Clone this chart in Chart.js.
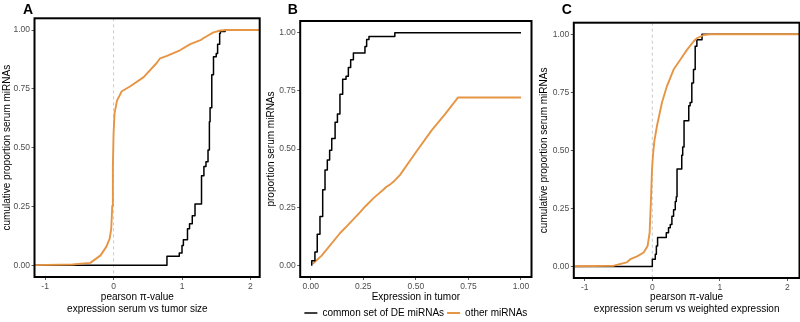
<!DOCTYPE html>
<html>
<head>
<meta charset="utf-8">
<script src="https://cdn.jsdelivr.net/npm/chart.js@4.4.1/dist/chart.umd.min.js"></script>
<style>
  html, body { margin: 0; padding: 0; background: #fff; overflow: hidden; width: 800px; height: 322px; }
  canvas { position: absolute; top: 0; }
  #chartA { left: 0px; }
  #chartB { left: 265px; }
  #chartC { left: 537px; }
</style>
</head>
<body>
<canvas id="chartA" width="262" height="322"></canvas>
<canvas id="chartB" width="270" height="328"></canvas>
<canvas id="chartC" width="263" height="322"></canvas>
<script>
// ticks
const yTicks = [0, 0.25, 0.5, 0.75, 1];
const xTicksPearson = [-1, 0, 1, 2];
const xTicksExpr = [0, 0.25, 0.5, 0.75, 1];

const nomes = ["common set of DE miRNAs", "other miRNAs"];

// painel A - pearson r vs tumor size
const aDeX = [-1.3, 0.78, 0.96, 1.0, 1.02, 1.08, 1.11, 1.15, 1.19, 1.285, 1.32, 1.35, 1.38, 1.40, 1.41, 1.435, 1.46, 1.50, 1.52, 1.55, 1.56, 1.63, 2.3];
const aDeY = [0, 0.038, 0.052, 0.084, 0.108, 0.155, 0.176, 0.21, 0.26, 0.38, 0.42, 0.44, 0.49, 0.61, 0.67, 0.81, 0.886, 0.90, 0.94, 0.985, 0.994, 1.0, 1.0];
const aOutrosX = [-1.3, -0.6, -0.34, -0.19, -0.107, -0.057, -0.034, -0.019, -0.01, 0, 0.015, 0.05, 0.12, 0.24, 0.44, 0.63, 0.68, 0.78, 0.97, 1.12, 1.27, 1.31, 1.46, 1.56, 1.66, 2.3];
const aOutrosY = [0, 0.003, 0.01, 0.042, 0.078, 0.113, 0.155, 0.253, 0.42, 0.56, 0.647, 0.70, 0.74, 0.76, 0.80, 0.86, 0.88, 0.89, 0.914, 0.94, 0.957, 0.965, 0.99, 0.998, 1.0, 1.0];

// painel B - expression in tumor
const bDeX = [0.003, 0.005, 0.02, 0.031, 0.044, 0.057, 0.068, 0.079, 0.09, 0.1, 0.116, 0.127, 0.139, 0.152, 0.168, 0.179, 0.19, 0.203, 0.258, 0.266, 0.277, 0.40, 1.0];
const bDeY = [0, 0.02, 0.057, 0.134, 0.21, 0.325, 0.41, 0.453, 0.495, 0.545, 0.615, 0.65, 0.735, 0.80, 0.813, 0.85, 0.884, 0.912, 0.94, 0.97, 0.983, 1.0, 1.0];
const bOutrosX = [0.01, 0.052, 0.139, 0.179, 0.234, 0.258, 0.30, 0.345, 0.36, 0.377, 0.40, 0.425, 0.496, 0.575, 0.639, 0.70, 1.0];
const bOutrosY = [0.007, 0.042, 0.138, 0.175, 0.228, 0.252, 0.29, 0.325, 0.338, 0.347, 0.365, 0.389, 0.481, 0.58, 0.65, 0.721, 0.721];

// painel C - pearson r vs weighted expression
const cDeX = [-1.3, 0.0, 0.044, 0.06, 0.078, 0.207, 0.24, 0.266, 0.29, 0.315, 0.34, 0.355, 0.366, 0.436, 0.45, 0.47, 0.54, 0.56, 0.585, 0.61, 0.635, 0.66, 0.736, 2.3];
const cDeY = [0, 0.031, 0.052, 0.088, 0.124, 0.145, 0.166, 0.18, 0.216, 0.244, 0.28, 0.30, 0.42, 0.479, 0.514, 0.628, 0.692, 0.706, 0.79, 0.848, 0.948, 0.976, 1.0, 1.0];
const cOutrosX = [-1.3, -0.57, -0.38, -0.325, -0.226, -0.128, -0.07, -0.04, -0.02, -0.005, 0.01, 0.03, 0.07, 0.143, 0.217, 0.315, 0.414, 0.513, 0.61, 0.66, 0.76, 0.85, 2.3];
const cOutrosY = [0, 0.003, 0.017, 0.031, 0.043, 0.06, 0.088, 0.145, 0.287, 0.415, 0.48, 0.54, 0.607, 0.706, 0.777, 0.848, 0.89, 0.933, 0.969, 0.983, 0.997, 1.0, 1.0];

const fonte = "'Liberation Sans', Arial, Helvetica, sans-serif";
const corDE = "#000000";
const corOutros = "#E69545";

Chart.defaults.font.family = fonte;
Chart.defaults.animation = false;

function pontos(xs, ys) {
  return xs.map((x, i) => ({ x: x, y: ys[i] }));
}

// moldura preta, linha tracejada no zero e letra do painel
const moldura = {
  id: "moldura",
  beforeDatasetsDraw(chart, args, opts) {
    if (!opts.zero) return;
    const { ctx, chartArea } = chart;
    const px = chart.scales.x.getPixelForValue(0);
    ctx.save();
    ctx.strokeStyle = "#c9c9c9";
    ctx.lineWidth = 1;
    ctx.setLineDash([3, 3]);
    ctx.beginPath();
    ctx.moveTo(px, chartArea.top);
    ctx.lineTo(px, chartArea.bottom);
    ctx.stroke();
    ctx.restore();
  },
  afterDraw(chart, args, opts) {
    const { ctx, chartArea } = chart;
    ctx.save();
    ctx.strokeStyle = "#000";
    ctx.lineWidth = 2;
    ctx.strokeRect(chartArea.left, chartArea.top, chartArea.right - chartArea.left, chartArea.bottom - chartArea.top);
    ctx.fillStyle = "#000";
    ctx.font = "bold 14px " + fonte;
    ctx.textBaseline = "alphabetic";
    ctx.fillText(opts.letra, opts.letraX, 13.5);
    ctx.restore();
  },
};

function eixoY(titulo, largura, padTitulo) {
  return {
    type: "linear",
    min: -0.05,
    max: 1.05,
    afterBuildTicks: (s) => { s.ticks = yTicks.map((v) => ({ value: v })); },
    afterFit: (s) => { s.width = largura; },
    ticks: {
      color: "#4d4d4d",
      font: { size: 8.5 },
      padding: 1.5,
      callback: (v) => Number(v).toFixed(2),
    },
    grid: { drawOnChartArea: false, tickLength: 3, color: "#333", lineWidth: 0.8 },
    border: { display: false },
    title: {
      display: true,
      text: titulo,
      color: "#000",
      font: { size: 10, lineHeight: 1.25 },
      padding: { top: padTitulo, bottom: 0 },
    },
  };
}

function eixoX(min, max, tickVals, formato, titulo, altura, padTitulo, lh) {
  return {
    type: "linear",
    min: min,
    max: max,
    afterBuildTicks: (s) => { s.ticks = tickVals.map((v) => ({ value: v })); },
    afterFit: (s) => { s.height = altura; },
    ticks: {
      color: "#4d4d4d",
      font: { size: 8.5 },
      padding: 1.5,
      maxRotation: 0,
      autoSkip: false,
      callback: formato,
    },
    grid: { drawOnChartArea: false, tickLength: 3, color: "#333", lineWidth: 0.8 },
    border: { display: false },
    title: {
      display: true,
      text: titulo,
      color: "#000",
      font: { size: 10, lineHeight: lh },
      padding: { top: 0, bottom: padTitulo },
    },
  };
}

function serie(label, dados, cor, largura, degrau, ordem) {
  return {
    label: label,
    data: dados,
    borderColor: cor,
    backgroundColor: cor,
    borderWidth: largura,
    pointRadius: 0,
    fill: false,
    tension: 0,
    stepped: degrau,
    borderJoinStyle: "round",
    order: ordem,
  };
}

// painel A (titulo do eixo x fica um pouco a esquerda do centro no original)
new Chart(document.getElementById("chartA"), {
  type: "line",
  data: {
    datasets: [
      serie(nomes[0], pontos(aDeX, aDeY), corDE, 1.5, true, 1),
      serie(nomes[1], pontos(aOutrosX, aOutrosY), corOutros, 1.9, false, 0),
    ],
  },
  options: {
    responsive: false,
    layout: { padding: { left: 0, right: 2.3, top: 18.3, bottom: 0 } },
    plugins: {
      legend: { display: false },
      tooltip: { enabled: false },
      moldura: { letra: "A", letraX: 23, zero: true },
    },
    scales: {
      x: eixoX(-1.155, 2.135, xTicksPearson, (v) => String(v),
        ["pearson \u03c0-value       ", "expression serum vs tumor size       "], 45, 6.45, 1.25),
      y: eixoY("cumulative proportion serum miRNAs", 34.5, 0.75),
    },
  },
  plugins: [moldura],
});

// painel B
new Chart(document.getElementById("chartB"), {
  type: "line",
  data: {
    datasets: [
      serie(nomes[0], pontos(bDeX, bDeY), corDE, 1.5, true, 0),
      serie(nomes[1], pontos(bOutrosX, bOutrosY), corOutros, 1.9, false, 1),
    ],
  },
  options: {
    responsive: false,
    layout: { padding: { left: 0, right: 3.5, top: 21, bottom: 0 } },
    plugins: {
      legend: {
        display: true,
        position: "bottom",
        fullSize: false,
        labels: {
          usePointStyle: true,
          pointStyle: "line",
          pointStyleWidth: 13,
          padding: 3,
          color: "#000",
          font: { size: 10 },
        },
      },
      tooltip: { enabled: false },
      moldura: { letra: "B", letraX: 22.7, zero: false },
    },
    scales: {
      x: eixoX(-0.05, 1.05, xTicksExpr, (v) => Number(v).toFixed(2),
        "Expression in tumor", 28, 3, 1),
      y: eixoY("proportion serum miRNAs", 35.2, 0.45),
    },
  },
  plugins: [moldura],
});

// painel C
new Chart(document.getElementById("chartC"), {
  type: "line",
  data: {
    datasets: [
      serie(nomes[0], pontos(cDeX, cDeY), corDE, 1.5, true, 1),
      serie(nomes[1], pontos(cOutrosX, cOutrosY), corOutros, 1.9, false, 0),
    ],
  },
  options: {
    responsive: false,
    layout: { padding: { left: 0, right: 0.5, top: 22.7, bottom: 0 } },
    plugins: {
      legend: { display: false },
      tooltip: { enabled: false },
      moldura: { letra: "C", letraX: 24.7, zero: true },
    },
    scales: {
      x: eixoX(-1.163, 2.18, xTicksPearson, (v) => String(v),
        ["pearson \u03c0-value", "expression serum vs weighted expression"], 44, 6.45, 1.25),
      y: eixoY("cumulative proportion serum miRNAs", 36.8, 0.75),
    },
  },
  plugins: [moldura],
});
</script>
</body>
</html>
